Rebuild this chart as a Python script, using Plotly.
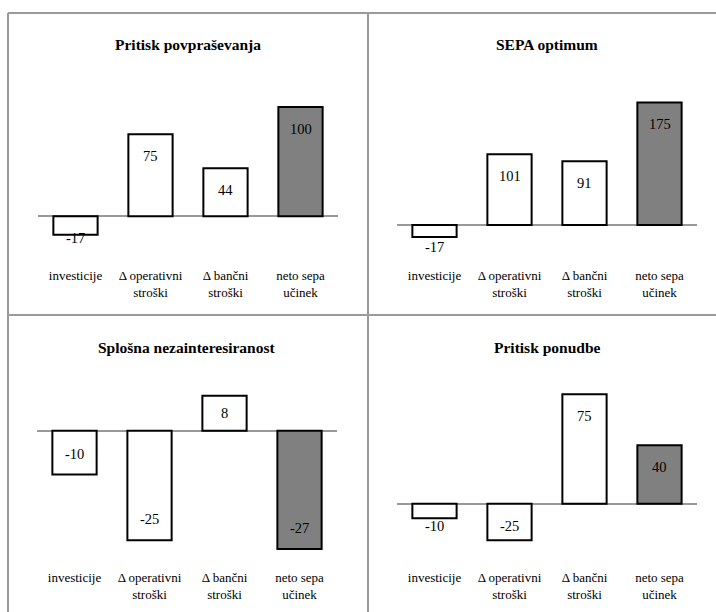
import plotly.graph_objects as go

W, H = 716, 612

categories = ["investicije", "Δ operativni<br>stroški", "Δ bančni<br>stroški", "neto sepa<br>učinek"]
titles = ["Pritisk povpraševanja", "SEPA optimum", "Splošna nezainteresiranost", "Pritisk ponudbe"]
values_demand = [-17, 75, 44, 100]
values_optimum = [-17, 101, 91, 175]
values_indifference = [-10, -25, 8, -27]
values_supply = [-10, -25, 75, 40]
bar_colors = ["white", "white", "white", "#808080"]

FONT = "Liberation Serif"

# panel layout in pixels: (x0, x1, y_top, y_bottom, y range)
panels = [
    (values_demand, (38, 338, 85, 260, [-40, 120])),
    (values_optimum, (397, 697, 85, 260, [-50, 200])),
    (values_indifference, (37, 337, 387, 562, [-30, 10])),
    (values_supply, (397, 697, 387, 562, [-40, 80])),
]

fig = go.Figure()
annotations = []
layout_axes = {}

for i, (vals, (x0, x1, yt, yb, yr)) in enumerate(panels):
    n = "" if i == 0 else str(i + 1)
    xa, ya = "x" + n, "y" + n
    fig.add_trace(go.Bar(
        x=categories, y=vals, xaxis=xa, yaxis=ya,
        marker=dict(color=bar_colors, line=dict(color="black", width=2)),
        showlegend=False, hoverinfo="skip",
    ))
    layout_axes["xaxis" + n] = dict(
        domain=[x0 / W, x1 / W], anchor=ya, showgrid=False, zeroline=False,
        showline=False, ticks="", tickfont=dict(family=FONT, size=13, color="black"),
        fixedrange=True, ticklabelstandoff=6,
    )
    layout_axes["yaxis" + n] = dict(
        domain=[1 - yb / H, 1 - yt / H], anchor=xa, range=yr, showgrid=False,
        showticklabels=False, zeroline=True, zerolinecolor="#999999", zerolinewidth=2,
        showline=False, ticks="", fixedrange=True,
    )
    scale = (yb - yt) / (yr[1] - yr[0])  # pixels per unit
    for c, v in zip(categories, vals):
        h = abs(v) * scale
        if v >= 0:
            if h >= 44:
                ly, sh = v, -22
            else:
                ly, sh = v / 2, 0
        else:
            if h - 21 >= 22:
                ly, sh = v, 21
            else:
                ly, sh = 0, -22
        annotations.append(dict(
            x=c, y=ly, xref=xa, yref=ya, yshift=sh, text=str(v), showarrow=False,
            font=dict(family=FONT, size=14.5, color="black"), yanchor="middle",
            xanchor="center",
        ))
    annotations.append(dict(
        x=(x0 + x1) / 2 / W, y=1 - (yt - 40) / H, xref="paper", yref="paper",
        text="<b>" + titles[i] + "</b>", showarrow=False, xanchor="center",
        font=dict(family=FONT, size=15.5, color="black"), yanchor="middle",
    ))

line_style = dict(color="#9a9a9a", width=2)
shapes = [
    dict(type="line", xref="paper", yref="paper", x0=8 / W, x1=1, y0=1 - 13 / H, y1=1 - 13 / H, line=line_style),
    dict(type="line", xref="paper", yref="paper", x0=8 / W, x1=1, y0=1 - 315 / H, y1=1 - 315 / H, line=line_style),
    dict(type="line", xref="paper", yref="paper", x0=8 / W, x1=8 / W, y0=0, y1=1 - 13 / H, line=line_style),
    dict(type="line", xref="paper", yref="paper", x0=368 / W, x1=368 / W, y0=0, y1=1 - 13 / H, line=line_style),
]

fig.update_layout(
    width=W, height=H, autosize=False,
    margin=dict(l=0, r=0, t=0, b=0),
    paper_bgcolor="white", plot_bgcolor="white",
    bargap=0.41,
    annotations=annotations, shapes=shapes,
    font=dict(family=FONT, color="black"),
    **layout_axes,
)

fig.write_html(
    "out.html",
    config={"displayModeBar": False},
    post_script="document.body.style.margin='0';document.body.style.overflow='hidden';",
)
